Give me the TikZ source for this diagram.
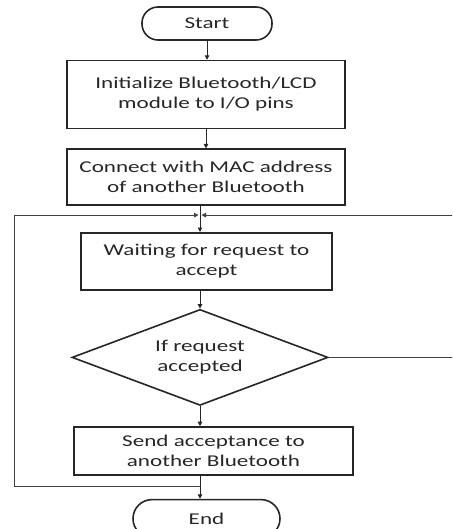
\documentclass[tikz,border=0pt]{standalone}
\usepackage{fontspec}
\setmainfont{Carlito}[FakeStretch=1.4]
\usetikzlibrary{arrows.meta,positioning,shapes.geometric,calc}

\begin{document}
\begin{tikzpicture}[->,>={Triangle[length=4.5pt,width=4.5pt]},line width=1pt,black!85,
  every node/.style={font=\fontsize{16.5pt}{20pt}\selectfont,text=black!85,align=center,inner sep=0pt},
  pill/.style={draw=black!85,line width=1.6pt,rounded corners=16pt,minimum width=130pt,minimum height=33pt},
  procbox/.style={draw=black!85,line width=1.6pt,rectangle,minimum width=278pt,minimum height=56pt},
  cond/.style={draw=black!85,line width=1.6pt,diamond,aspect=2.67,minimum width=256pt,minimum height=96pt},
  loopline/.style={line width=0.8pt,black!75}]
%
  \useasboundingbox (0,0) rectangle (452pt,-529pt);
  \clip (0,0) rectangle (452pt,-529pt);
%
  \node[pill] (start) at (207pt,-23.5pt) {Start};
  \node[procbox,minimum height=68pt,below=19pt of start,xshift=-1pt] (init) {Initialize Bluetooth/LCD\\module to I/O pins};
  \node[procbox,below=19pt of init] (conn) {Connect with MAC address\\of another Bluetooth};
  \node[procbox,minimum width=251pt,minimum height=57pt,below=26pt of conn,xshift=0.5pt] (wait) {Waiting for request to\\accept};
  \node[cond,below=18pt of wait,xshift=-6.5pt] (dec) {If request\\accepted};
  \node[procbox,minimum width=279pt,minimum height=48pt,below=20pt of dec,xshift=13.5pt] (send) {Send acceptance to\\another Bluetooth};
  \node[pill,minimum width=147pt,minimum height=38pt,rounded corners=19pt,below=23pt of send,xshift=-7pt] (end) {End};
%
  \coordinate (jtop) at ($(dec.north |- conn.south)!0.35!(dec.north |- wait.north)$);
  \coordinate (jbot) at ($(dec.south |- send.south)!0.48!(dec.south |- end.north)$);
  \coordinate (lft) at (14pt,0);
  \coordinate (rgt) at (470pt,0);
%
  \draw (start.south) -- (start.south |- init.north);
  \draw (init.south) -- (init.south |- conn.north);
  \draw (dec.north |- conn.south) -- (dec.north |- wait.north);
  \draw (dec.north |- wait.south) -- (dec.north);
  \draw (dec.south) -- (dec.south |- send.north);
  \draw (dec.south |- send.south) -- (dec.south |- end.north);
%
  \draw[loopline] (jbot) -- (jbot -| lft) |- ([xshift=-1.5pt]jtop);
  \draw[loopline] (dec.east) -- (dec.east -| rgt) |- ([xshift=1.5pt]jtop);
\end{tikzpicture}
\end{document}
